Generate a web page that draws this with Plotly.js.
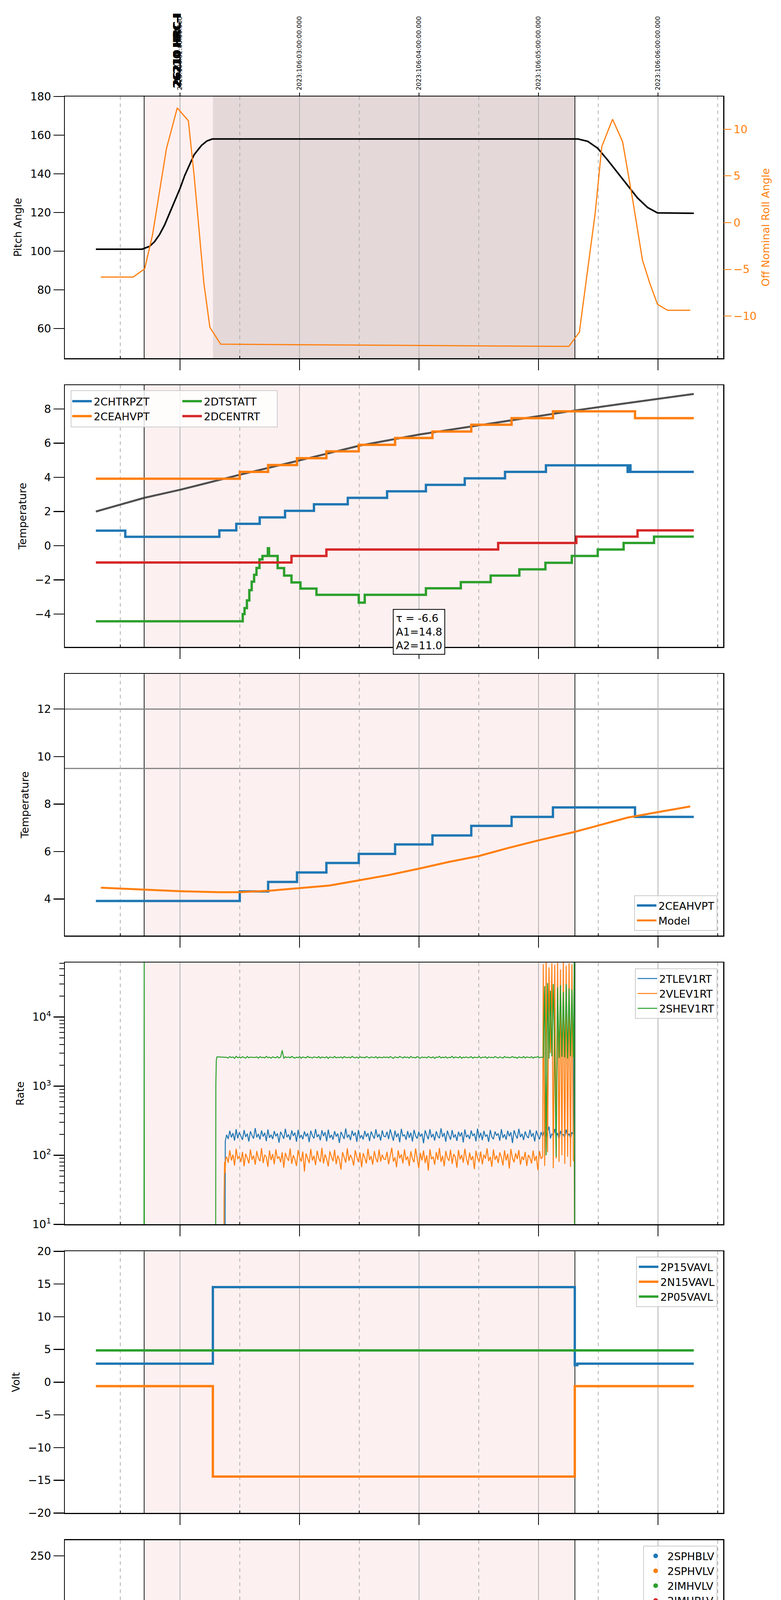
<!DOCTYPE html>
<html>
<head>
<meta charset="utf-8">
<script src="https://cdn.plot.ly/plotly-3.0.1.min.js"></script>
<style>
body { margin: 0; background: #fff; }
#plot { width: 2000px; height: 6200px; }
</style>
</head>
<body>
<div id="plot"></div>
<script>
// time axis is in hours of 2023-04-15/16 local time (24 = 00h on 04-16)
var hourTicks = [22, 23, 24, 25, 26]
var hourLabels = ['22h', '23h', '00h', '01h', '02h']
var halfTicks = [21.5, 22.5, 23.5, 24.5, 25.5, 26.5]
var halfLabels = ['30', '30', '30', '30', '30', '30']
var topLabels = ['2023:106:02:00:00.000', '2023:106:03:00:00.000', '2023:106:04:00:00.000',
                 '2023:106:05:00:00.000', '2023:106:06:00:00.000']
var obsidLabel = '26210 HRC-I'
var obsStart = 21.7, obsStop = 25.305, dwellStart = 22.276

// panel 1 : pitch and roll
var pitch = [[21.296,101.0],[21.683,101.0],[21.746,102.5],[21.787,104.9],[21.829,108.6],[21.871,113.5],
  [21.9125,119.6],[21.954,125.7],[22.0,132.4],[22.04,139.2],[22.118,149.9],[22.18,154.7],[22.226,157.0],
  [22.27,158.0],[25.33,158.0],[25.4125,156.8],[25.496,153.2],[25.579,147.1],[25.704,137.3],[25.829,127.5],
  [25.9125,122.6],[25.996,119.8],[26.3,119.6]]
var roll = [[21.3375,-5.82],[21.608,-5.82],[21.704,-4.94],[21.77,-1.3],[21.85,5.04],[21.886,7.9],[21.977,12.28],
  [22.07,10.9],[22.118,5.04],[22.16,-1.0],[22.20,-6.5],[22.25,-11.2],[22.34,-13.0],[23.0,-13.06],[24.0,-13.14],
  [25.0,-13.19],[25.254,-13.24],[25.342,-11.72],[25.41,-5.27],[25.475,1.06],[25.53,8.15],[25.62,11.06],
  [25.704,8.66],[25.79,2.33],[25.87,-4.0],[25.933,-6.53],[25.996,-8.73],[26.08,-9.37],[26.27,-9.37]]

// panel 2 : temperatures
var chtrpzt = [[21.296,0.88],[21.542,0.52],[22.329,0.9],[22.471,1.28],[22.667,1.66],[22.879,2.04],[23.121,2.42],
  [23.404,2.8],[23.733,3.18],[24.058,3.56],[24.383,3.94],[24.72,4.32],[25.0625,4.7],[25.746,4.32],[25.755,4.7],
  [25.77,4.32],[26.3,4.32]]
var ceahvpt = [[21.296,3.92],[22.5,4.32],[22.7375,4.72],[22.979,5.12],[23.225,5.52],[23.496,5.9],[23.8,6.3],
  [24.1125,6.68],[24.4375,7.08],[24.775,7.46],[25.121,7.86],[25.808,7.46],[26.3,7.46]]
var dtstatt = [[21.296,-4.42],[22.525,-4.0],[22.54,-3.65],[22.56,-3.2],[22.58,-2.6],[22.60,-2.1],[22.62,-1.7],
  [22.64,-1.3],[22.665,-0.8],[22.69,-0.6],[22.735,-0.15],[22.745,-0.6],[22.817,-1.31],[22.871,-1.75],
  [22.933,-2.15],[23.008,-2.51],[23.142,-2.87],[23.496,-3.33],[23.546,-2.87],[24.058,-2.49],[24.35,-2.13],
  [24.6,-1.75],[24.84,-1.38],[25.058,-1.0],[25.279,-0.6],[25.496,-0.22],[25.7125,0.16],[25.967,0.53],[26.3,0.53]]
var dcentrt = [[21.296,-0.98],[22.933,-0.6],[23.225,-0.22],[24.6625,0.16],[25.317,0.53],[25.829,0.9],[26.3,0.9]]
var fitCurve = [[21.296,2.0],[21.7,2.8],[22.0,3.27],[22.5,4.15],[23.0,4.99],[23.5,5.85],[24.0,6.5],[24.5,7.04],
  [25.0,7.59],[25.304,7.91],[25.7,8.3],[26.0,8.58],[26.3,8.88]]
var fitText = 'τ = -6.6<br>A1=14.8<br>A2=11.0'

// panel 3 : 2CEAHVPT against model
var modelT = [[21.3375,4.48],[21.7,4.39],[22.0,4.33],[22.33,4.29],[22.5,4.29],[22.75,4.35],[23.0,4.45],
  [23.25,4.57],[23.5,4.79],[23.746,5.01],[24.0,5.28],[24.246,5.56],[24.5,5.81],[24.746,6.15],[25.0,6.47],
  [25.304,6.83],[25.496,7.09],[25.746,7.43],[26.0,7.66],[26.27,7.9]]
var limitLines = [12, 9.5]

// panel 4 : rates, sampled evenly between rateSpan
var rateSpan = [22.39, 25.035]
var tlevNoiseA = [198,172,226,181,209,163,238,176,214,189,167,231,184,205,158,222,193,174,247,181,
  203,169,228,186,211,160,236,179,198,171,224,188,207,152,219,195,173,241,182,200,
  166,229,190,212,157,233,177,196,170,221,187,208,155,226,192,175,239,183,201,164,
  230,189,215,159,235,178,197,168,223,186,206,151,218,194,172,244,180,199,165,227,
  191,213,156,232,176,195,169,225,185,209,160,221,193,174,237,182,202,163,229,188]
var tlevNoiseB = [185,219,171,236,194,162,227,183,208,154,241,188,199,167,224,179,212,158,233,191,
  174,218,186,205,149,229,195,170,238,181,203,163,222,189,176,245,184,210,157,226,
  193,168,231,180,200,161,219,187,214,153,236,182,197,172,228,190,206,159,243,177,
  211,165,225,186,199,156,232,184,171,220,192,207,162,238,179,201,168,226,188,215,
  150,230,196,174,241,183,204,166,221,190,177,234,185,209,158,227,193,170,216,187]
var vlevNoiseA = [95,78,118,84,102,71,124,88,97,80,112,69,105,91,76,121,86,99,73,115,
  90,82,127,77,101,94,68,117,85,104,74,122,89,96,79,110,66,108,92,83,
  125,75,100,87,70,119,93,81,113,58,106,90,77,123,84,98,72,116,91,80,
  128,76,103,88,69,114,95,82,120,74,99,86,62,111,93,78,126,83,101,89,
  71,118,94,80,109,67,107,92,76,124,85,97,73,115,90,79,121,81,102,88]
var vlevNoiseB = [87,112,74,99,128,81,93,67,118,90,103,76,121,85,96,70,114,89,79,125,
  92,65,108,84,117,77,100,60,122,88,95,73,111,86,127,80,98,69,115,91,
  83,120,75,104,94,66,119,87,101,78,124,90,72,109,85,97,63,116,92,80,
  113,74,102,89,126,82,95,68,121,86,99,77,110,93,71,118,84,105,64,123,
  91,79,107,88,119,73,96,85,112,70,101,92,76,117,83,98,61,115,89,94]
var shevNoiseA = [2610,2550,2680,2590,2640,2520,2700,2580,2620,2560,2660,2600,2540,2690,2570,2630,2610,2600,2600,2650,
  2530,2670,2590,2610,2560,2700,2580,2620,2540,2650,2600,2570,2680,2550,2630,3300,2520,2660,2590,2640,
  2570,2690,2600,2550,2620,2580,2670,2530,2640,2610,2560,2700,2590,2620,2550,2650,2600,2570,2680,2540,
  2630,2610,2580,2660,2520,2640,2600,2570,2690,2560,2620,2590,2650,2540,2670,2610,2580,2630,2550,2700,
  2600,2570,2640,2530,2660,2590,2620,2560,2680,2600,2550,2640,2610,2580,2670,2540,2630,2600,2570,2650]
var shevNoiseB = [2590,2640,2560,2680,2610,2530,2650,2600,2570,2690,2620,2550,2660,2590,2630,2540,2700,2580,2610,2560,
  2670,2600,2530,2640,2590,2620,2550,2680,2610,2570,2650,2520,2630,2600,2690,2560,2620,2580,2660,2540,
  2610,2590,2700,2550,2640,2600,2570,2680,2530,2620,2590,2650,2560,2610,2670,2540,2630,2600,2580,2690,
  2550,2620,2600,2660,2530,2640,2590,2610,2570,2680,2620,2550,2650,2600,2540,2690,2580,2630,2560,2610,
  2670,2590,2620,2530,2650,2600,2570,2680,2550,2640,2610,2580,2660,2540,2630,2600,2690,2570,2620,2600]
var rateBurstStart = 25.04, rateBurstStep = 0.012
var tlevBurst = [200,230,180,215,260,175,205,190,240,185,210,170,225,195,200,180,235,190,205,175,215,200]
var vlevBurst = [58000,70,62000,110,52000,3000,60000,65,57000,90,61000,80,49000,100,63000,75,55000,95,60000,68,58000,85]
var shevBurst = [2600,28000,100,31000,2500,24000,2700,30000,2600,95,27000,2550,29000,2650,23000,2600,30000,2500,26000,2700,25000,2600]
var tlevHead = [[21.296,1],[22.376,1],[22.379,160]]
var vlevHead = [[21.296,1],[22.366,1],[22.369,25],[22.373,80],[22.377,55],[22.382,90]]
var shevHead = [[21.296,1],[21.698,1],[21.7,90000],[21.702,1],[22.298,1],[22.3,1100],[22.304,2400],[22.31,2650]]
var tlevTail = [[25.30,90000],[25.302,1],[26.3,1]]
var vlevTail = [[25.30,80],[25.302,1],[26.3,1]]
var shevTail = [[25.30,90000],[25.302,1],[26.3,1]]

// panel 5 : voltages
var p15 = [[21.296,2.83],[22.275,14.53],[25.304,2.6],[25.325,2.83],[26.3,2.83]]
var n15 = [[21.296,-0.61],[22.275,-14.42],[25.304,-0.61],[26.3,-0.61]]
var p05 = [[21.296,4.86],[26.3,4.86]]

// panel 6 : HV monitors (runs are sampled every hvCadence hours)
var hvCadence = 0.01
var sphblv = [[25.0,-50]]
var sphvlv = [[25.0,-50]]
var imhblvLead = [[22.328,127],[22.331,126],[22.334,119],[22.337,106],[22.340,105],[22.343,101],[22.346,96],
  [22.350,93],[22.355,90],[22.360,88],[22.365,87]]
var imhblvRun = [22.37, 25.30, 86]
var imhblvOut = [[25.04,79],[25.135,79],[25.142,79],[25.15,79],[25.156,79]]
var imhvlvLead = [[22.322,100],[22.326,98],[22.33,95],[22.334,90],[22.338,88],[22.342,85],[22.346,83],
  [22.35,81],[22.355,80]]
var imhvlvRun = [22.36, 25.30, 79]
var imhvlvOut = [[25.04,127],[25.135,127],[25.145,127]]

// panel 7 : detector temperatures
var detBurstStart = 25.0375, detBurstStep = 0.012
var spinatm = [[22.27,-3],[22.275,1.12],[22.317,1.53],[22.525,2.0],[22.546,2.5],[22.567,3.0],[22.579,3.3],
  [22.6,3.9],[22.621,4.6],[22.642,5.0],[22.6625,5.5],[22.683,6.0],[22.704,6.52],[22.746,6.0],[22.79,5.5],
  [22.83,5.0],[22.8625,4.55],[22.9125,4.15],[22.975,3.7],[23.046,3.27],[23.183,2.83],[23.421,2.39],[24.5375,2.83]]
var spinatmBurst = [-3,2.83,-3,2.83,-3,2.83,2.83,2.83,2.83,2.83,2.83,2.83,-3,2.83,-3,2.83,-3,2.83,-3,2.83]
var spinatmTail = [[25.2875,3.3],[25.30,3.3]]
var sphvatm = [[22.275,13.59],[23.092,13.83],[23.379,14.14],[23.654,14.44],[23.9375,14.71],[24.217,14.99],
  [24.496,15.26],[24.8,15.56]]
var sphvatmBurst = [15.8,10.75,15.8,10.75,15.8,10.75,15.8,15.8,10.75,15.8,10.75,-3,15.8,10.75,15.8,10.75,15.8,10.75,15.8,10.75]
var sphvatmTail = [[25.275,15.8]]
var iminatm = [[22.2875,0.25],[23.496,0.66],[24.383,1.09]]
var iminatmBurst = [2.85,1.09,2.85,1.09,2.85,1.09,2.85,1.5,2.85,1.5,2.85,1.5,2.85,1.5,2.85,1.5,2.85,1.5,2.85,1.5]
var iminatmTail = [[25.29,1.5]]
var imhvatm = [[22.27,-5],[22.275,13.05],[22.329,12.73],[22.392,13.05],[22.525,13.33],[22.629,13.62],[22.733,13.89],
  [22.854,14.17],[22.983,14.44],[23.121,14.72],[23.275,14.99],[23.4375,15.26],[23.6125,15.53],[23.808,15.81],
  [24.029,16.1],[24.267,16.38],[24.508,16.65],[24.7875,16.94]]
var imhvatmBurst = [17.28,15.8,17.28,15.8,17.28,15.8,17.28,15.8,17.28,15.8,17.28,10.8,17.28,15.8,17.28,15.8,17.28,15.8,17.28,15.8]
var imhvatmTail = [[25.29,17.28],[25.305,-5],[25.307,25],[25.309,-5]]

// panel 8 : FEA temperatures
var fhtrmzt = [[21.296,-7.18],[21.975,-10],[22.392,-7.18],[22.5375,-6.76],[22.6625,-6.36],[22.767,-5.97],
  [22.871,-5.58],[22.975,-5.19],[23.079,-4.80],[23.183,-4.42],[23.2875,-4.03],[23.4,-3.65],[23.508,-3.27],
  [23.629,-2.88],[23.6625,-3.3],[23.667,-2.88],[23.7375,-2.49],[23.854,-2.12],[23.971,-1.74],[24.092,-1.36],
  [24.217,-0.99],[24.346,-0.6],[24.475,-0.24],[24.608,0.15],[24.7375,0.52],[24.871,0.91],[24.9125,-0.15],
  [24.917,0.91],[25.008,1.30],[25.204,1.64],[25.279,2.03],[25.854,1.66],[26.3,1.66]]
var fradpyt = [[22.70,-10],[22.704,-7.18],[22.8,-6.77],[22.9,-6.36],[22.996,-5.97],[23.1,-5.58],[23.204,-5.19],
  [23.3125,-4.80],[23.425,-4.42],[23.5375,-4.03],[23.654,-3.65],[23.775,-3.27],[23.9,-2.88],[24.025,-2.49],
  [24.15,-2.12],[24.279,-1.74],[24.4125,-1.36],[24.55,-0.99],[24.692,-0.6],[24.8375,-0.24],[24.979,0.15],
  [25.175,10],[25.177,-10],[25.204,0.5],[25.279,0.91],[25.454,0.52],[25.571,0.14],[25.704,-0.24],
  [25.858,-0.6],[26.008,-0.24],[26.3,-0.24]]
var fepratm = [[22.296,-6.21],[22.317,-5.80],[22.358,-5.41],[22.4125,-5.02],[22.454,-4.63],[22.496,-4.23],
  [22.533,-3.85],[22.608,-3.4],[22.704,-3.0],[22.808,-2.65],[22.9125,-2.25],[23.017,-1.85],[23.129,-1.45],
  [23.246,-1.08],[23.3625,-0.68],[23.4875,-0.3],[23.604,0.1],[23.729,0.5],[23.854,0.9],[23.9875,1.3],
  [24.129,1.5],[24.279,1.95],[24.433,2.35],[24.571,2.8],[24.725,3.2],[24.879,3.7],
  [25.029,-4.67],[25.035,4.6],[25.041,-4.67],[25.047,4.6],[25.053,-4.67],[25.058,5],[25.100,-4.67],
  [25.106,4.6],[25.112,-4.67],[25.118,4.6],[25.124,-4.67],[25.130,4.6],[25.136,-4.67],[25.142,4.6],
  [25.148,-4.67],[25.154,5],[25.196,-4.67],[25.202,4.6],[25.208,-4.67],[25.214,4.6],[25.217,5],
  [25.2375,-4.67],[25.243,4.6],[25.249,-4.67],[25.255,4.6],[25.258,5],[25.27,5]]
var fe00atm = [[22.27,-10],[22.275,-5.23],[22.4125,-4.89],[22.433,-5.6],[22.437,-4.89],[22.508,-4.53],
  [22.579,-4.16],[22.654,-3.82],[22.733,-3.45],[22.821,-3.14],[22.904,-2.1],[22.906,-2.78],[22.979,-2.43],
  [23.046,-2.1],[23.129,-1.79],[23.225,-1.42],[23.3,-1.11],[23.383,-0.78],[23.4875,-0.46],[23.52,-0.05],
  [23.523,-0.46],[23.55,-0.85],[23.553,-0.46],[23.579,-0.14],[23.6625,0.19],[23.7375,0.52],[23.85,0.83],
  [23.946,1.13],[24.05,1.44],[24.14,2.4],[24.143,1.44],[24.15,1.75],[24.2375,2.05],[24.29,2.7],[24.293,2.05],
  [24.3375,2.35],[24.4375,2.66],[24.546,2.95],[24.654,3.27],[24.758,3.57],[24.8,2.9],[24.803,3.57],
  [24.8625,3.85],[24.967,4.15],[25.079,4.15],[25.0795,10],[25.08,-10],[25.175,-10],[25.1755,10],
  [25.176,-10],[25.306,-10],[25.3065,10],[25.307,-10]]

var BLUE = '#1f77b4', ORANGE = '#ff7f0e', GREEN = '#2ca02c', RED = '#d62728'
var FONT = 'DejaVu Sans'

// figure geometry in pixels
var L = 166, R = 1852, T = 247, B = 6091
var PW = R - L, PH = B - T
var STEP = 739.1, PANEL = 670
var xRange = [21.036, 26.546]

function px2x(px) { return (px - L) / PW }
function px2y(py) { return (B - py) / PH }
function dom(k) {
    var top = T + STEP * k
    return [px2y(top + PANEL), px2y(top)]
}
function sfx(k) { return k === 0 ? '' : String(k + 1) }

function onGrid(t0, dt, vals) {
    return vals.map(function (v, i) { return [t0 + i * dt, v] })
}
function spread(span, vals) {
    return onGrid(span[0], (span[1] - span[0]) / (vals.length - 1), vals)
}
function run(r) {
    var out = []
    for (var t = r[0]; t <= r[1] + 1e-9; t += hvCadence) out.push([t, r[2]])
    return out
}

var traces = []
function addLine(pairs, name, color, width, k, opt) {
    opt = opt || {}
    var tr = {
        type: 'scatter', mode: 'lines',
        x: pairs.map(function (p) { return p[0] }),
        y: pairs.map(function (p) { return p[1] }),
        name: name,
        xaxis: 'x' + sfx(k), yaxis: opt.yaxis || 'y' + sfx(k),
        line: { color: color, width: width, shape: opt.shape || 'linear' },
        showlegend: !!opt.legend,
        hoverinfo: 'skip'
    }
    if (opt.legend) tr.legend = opt.legend
    traces.push(tr)
}
function addDots(pairs, name, color, k, legend) {
    traces.push({
        type: 'scatter', mode: 'markers',
        x: pairs.map(function (p) { return p[0] }),
        y: pairs.map(function (p) { return p[1] }),
        name: name, xaxis: 'x' + sfx(k), yaxis: 'y' + sfx(k),
        marker: { color: color, size: 12 },
        showlegend: true, legend: legend, hoverinfo: 'skip'
    })
}

// panel 1
addLine(pitch, 'Pitch', '#000', 4, 0)
addLine(roll, 'Roll', ORANGE, 3, 0, { yaxis: 'y9' })

// panel 2
addLine(fitCurve, 'fit', 'rgba(60,60,60,0.9)', 5, 1)
addLine(chtrpzt, '2CHTRPZT', BLUE, 6, 1, { shape: 'hv', legend: 'legend' })
addLine(ceahvpt, '2CEAHVPT', ORANGE, 6, 1, { shape: 'hv', legend: 'legend' })
addLine(dtstatt, '2DTSTATT', GREEN, 6, 1, { shape: 'hv', legend: 'legend2' })
addLine(dcentrt, '2DCENTRT', RED, 6, 1, { shape: 'hv', legend: 'legend2' })

// panel 3
addLine(ceahvpt, '2CEAHVPT', BLUE, 6, 2, { shape: 'hv', legend: 'legend3' })
addLine(modelT, 'Model', ORANGE, 5, 2, { legend: 'legend3' })

// panel 4
var rb = function (vals) { return onGrid(rateBurstStart, rateBurstStep, vals) }
addLine(tlevHead.concat(spread(rateSpan, tlevNoiseA.concat(tlevNoiseB)), rb(tlevBurst), tlevTail), '2TLEV1RT', BLUE, 2.5, 3, { legend: 'legend4' })
addLine(vlevHead.concat(spread(rateSpan, vlevNoiseA.concat(vlevNoiseB)), rb(vlevBurst), vlevTail), '2VLEV1RT', ORANGE, 2.5, 3, { legend: 'legend4' })
addLine(shevHead.concat(spread(rateSpan, shevNoiseA.concat(shevNoiseB)), rb(shevBurst), shevTail), '2SHEV1RT', GREEN, 2.5, 3, { legend: 'legend4' })

// panel 5
addLine(p15, '2P15VAVL', BLUE, 6, 4, { shape: 'hv', legend: 'legend5' })
addLine(n15, '2N15VAVL', ORANGE, 6, 4, { shape: 'hv', legend: 'legend5' })
addLine(p05, '2P05VAVL', GREEN, 6, 4, { shape: 'hv', legend: 'legend5' })

// panel 6
addDots(sphblv, '2SPHBLV', BLUE, 5, 'legend6')
addDots(sphvlv, '2SPHVLV', ORANGE, 5, 'legend6')
addDots(imhvlvLead.concat(run(imhvlvRun), imhvlvOut), '2IMHVLV', GREEN, 5, 'legend6')
addDots(imhblvLead.concat(run(imhblvRun), imhblvOut), '2IMHBLV', RED, 5, 'legend6')

// panel 7
var db = function (vals) { return onGrid(detBurstStart, detBurstStep, vals) }
addLine(spinatm.concat(db(spinatmBurst), spinatmTail), '2SPINATM', BLUE, 6, 6, { shape: 'hv', legend: 'legend7' })
addLine(sphvatm.concat(db(sphvatmBurst), sphvatmTail), '2SPHVATM', ORANGE, 6, 6, { shape: 'hv', legend: 'legend7' })
addLine(iminatm.concat(db(iminatmBurst), iminatmTail), '2IMINATM', GREEN, 6, 6, { shape: 'hv', legend: 'legend7' })
addLine(imhvatm.concat(db(imhvatmBurst), imhvatmTail), '2IMHVATM', RED, 6, 6, { shape: 'hv', legend: 'legend7' })

// panel 8
addLine(fhtrmzt, '2FHTRMZT', BLUE, 6, 7, { shape: 'hv', legend: 'legend8' })
addLine(fradpyt, '2FRADPYT', ORANGE, 6, 7, { shape: 'hv', legend: 'legend8' })
addLine(fepratm, '2FEPRATM', GREEN, 6, 7, { shape: 'hv', legend: 'legend8' })
addLine(fe00atm, '2FE00ATM', RED, 6, 7, { shape: 'hv', legend: 'legend8' })

var yspecs = [
    { title: 'Pitch Angle', range: [44.6, 180], tickvals: [60, 80, 100, 120, 140, 160, 180] },
    { title: 'Temperature', range: [-5.92, 9.39], tickvals: [-4, -2, 0, 2, 4, 6, 8] },
    { title: 'Temperature', range: [2.46, 13.48], tickvals: [4, 6, 8, 10, 12] },
    { title: 'Rate', type: 'log', range: [1, 4.787], tickvals: [10, 100, 1000, 10000],
      ticktext: ['10<sup>1</sup>', '10<sup>2</sup>', '10<sup>3</sup>', '10<sup>4</sup>'] },
    { title: 'Volt', range: [-20, 20], tickvals: [-20, -15, -10, -5, 0, 5, 10, 15, 20] },
    { title: 'HV Monitor', range: [0, 266], tickvals: [0, 50, 100, 150, 200, 250] },
    { title: 'Detector Temp', range: [-1.25, 18.17], tickvals: [0, 2.5, 5, 7.5, 10, 12.5, 15, 17.5], tickformat: '.1f' },
    { title: 'FEA Temp', range: [-7.47, 4.29], tickvals: [-6, -4, -2, 0, 2, 4] }
]

var logMinor = []
;[1, 10, 100, 1000, 10000].forEach(function (d) {
    for (var m = 2; m <= 9; m++) logMinor.push(m * d)
})

var layout = {
    width: 2000, height: 6200,
    margin: { l: L, r: 2000 - R, t: T, b: 6200 - B },
    paper_bgcolor: '#fff', plot_bgcolor: 'rgba(0,0,0,0)',
    font: { family: FONT, size: 27, color: '#000' },
    showlegend: true,
    shapes: [], annotations: []
}

for (var k = 0; k < 8; k++) {
    var s = sfx(k)
    layout['xaxis' + s] = {
        domain: [0, 1], anchor: 'y' + s, range: xRange,
        tickmode: 'array', tickvals: hourTicks, ticktext: hourLabels,
        showticklabels: k === 7, tickfont: { size: 30 },
        ticks: 'outside', ticklen: 28, tickwidth: 2.5, tickcolor: '#000',
        showline: true, linecolor: '#000', linewidth: 2.5, mirror: true,
        showgrid: true, gridcolor: '#b0b0b0', gridwidth: 1.5, zeroline: false,
        minor: { tickmode: 'array', tickvals: halfTicks, ticks: 'inside', ticklen: 6, tickwidth: 2,
                 tickcolor: '#000', showgrid: true, gridcolor: '#b0b0b0', gridwidth: 1.5, griddash: 'dash' }
    }
    var sp = yspecs[k]
    var ya = {
        domain: dom(k), anchor: 'x' + s, range: sp.range,
        tickmode: 'array', tickvals: sp.tickvals, tickfont: { size: 28 },
        ticks: 'outside', ticklen: 27, tickwidth: 2.5, tickcolor: '#000',
        showline: true, linecolor: '#000', linewidth: 2.5, mirror: true,
        showgrid: false, zeroline: false,
        title: { text: sp.title, font: { size: 27 }, standoff: 14 }
    }
    if (sp.type) ya.type = sp.type
    if (sp.ticktext) ya.ticktext = sp.ticktext
    if (sp.tickformat) ya.tickformat = sp.tickformat
    if (sp.type === 'log') {
        ya.minor = { tickmode: 'array', tickvals: logMinor, ticks: 'outside', ticklen: 12, tickwidth: 2, tickcolor: '#000', showgrid: false }
    }
    layout['yaxis' + s] = ya

    // observation window
    layout.shapes.push({ type: 'rect', xref: 'x' + s, yref: 'y' + s + ' domain', x0: obsStart, x1: obsStop,
        y0: 0, y1: 1, fillcolor: '#fdf0f0', line: { width: 0 }, layer: 'below' })
    if (k === 0) {
        layout.shapes.push({ type: 'rect', xref: 'x', yref: 'y domain', x0: dwellStart, x1: obsStop,
            y0: 0, y1: 1, fillcolor: '#e4d8d8', line: { width: 0 }, layer: 'below' })
    }
    ;[obsStart, obsStop].forEach(function (t) {
        layout.shapes.push({ type: 'line', xref: 'x' + s, yref: 'y' + s + ' domain', x0: t, x1: t,
            y0: 0, y1: 1, line: { color: '#000', width: 1.8 }, layer: 'below' })
    })
}

// panel 1 right axis
layout.yaxis9 = {
    overlaying: 'y', anchor: 'x', side: 'right', range: [-14.5, 13.5],
    tickmode: 'array', tickvals: [-10, -5, 0, 5, 10], tickfont: { size: 28, color: ORANGE },
    ticks: 'outside', ticklen: 20, tickwidth: 2, tickcolor: ORANGE,
    showline: false, showgrid: false, zeroline: false,
    title: { text: 'Off Nominal Roll Angle', font: { size: 27, color: ORANGE }, standoff: 14 }
}
layout.xaxis8.title = { text: '2023-04-16 (106)', font: { size: 34 }, standoff: 4 }

// top time labels of panel 1 with their ticks
hourTicks.forEach(function (h, i) {
    layout.shapes.push({ type: 'line', xref: 'x', yref: 'paper', x0: h, x1: h, y0: px2y(247), y1: px2y(237),
        line: { color: '#000', width: 2 } })
    layout.annotations.push({ xref: 'x', yref: 'paper', x: h, y: px2y(233), xanchor: 'center', yanchor: 'bottom',
        text: topLabels[i], textangle: -90, showarrow: false, font: { size: 16 } })
})
// half hour labels under the last panel
halfTicks.forEach(function (h, i) {
    layout.annotations.push({ xref: 'x8', yref: 'paper', x: h, y: px2y(6093), xanchor: 'center', yanchor: 'top',
        text: halfLabels[i], showarrow: false, font: { size: 18 } })
})

// panel 3 limit lines
limitLines.forEach(function (v) {
    layout.shapes.push({ type: 'line', xref: 'x3 domain', yref: 'y3', x0: 0, x1: 1, y0: v, y1: v,
        line: { color: '#808080', width: 3 }, layer: 'below' })
})

// panel 2 legend frame (two columns)
layout.shapes.push({ type: 'rect', xref: 'paper', yref: 'paper', x0: px2x(182), x1: px2x(710),
    y0: px2y(1093), y1: px2y(1000), fillcolor: 'rgba(255,255,255,0.8)',
    line: { color: '#cccccc', width: 2 }, layer: 'above' })

var legBase = { font: { size: 27 }, bgcolor: 'rgba(255,255,255,0.8)', bordercolor: '#cccccc', borderwidth: 2,
    itemwidth: 50, tracegroupgap: 0, xref: 'paper', yref: 'paper' }
function leg(o) { return Object.assign({}, legBase, o) }
layout.legend = leg({ x: px2x(180), y: px2y(1003), xanchor: 'left', yanchor: 'top', bgcolor: 'rgba(0,0,0,0)', borderwidth: 0 })
layout.legend2 = leg({ x: px2x(462), y: px2y(1003), xanchor: 'left', yanchor: 'top', bgcolor: 'rgba(0,0,0,0)', borderwidth: 0 })
layout.legend3 = leg({ x: px2x(1837), y: px2y(2383), xanchor: 'right', yanchor: 'bottom' })
layout.legend4 = leg({ x: px2x(1837), y: px2y(2479), xanchor: 'right', yanchor: 'top' })
layout.legend5 = leg({ x: px2x(1837), y: px2y(3217), xanchor: 'right', yanchor: 'top' })
layout.legend6 = leg({ x: px2x(1837), y: px2y(3957), xanchor: 'right', yanchor: 'top' })
layout.legend7 = leg({ x: px2x(1837), y: px2y(4695), xanchor: 'right', yanchor: 'top' })
layout.legend8 = leg({ x: px2x(1837), y: px2y(6077), xanchor: 'right', yanchor: 'bottom' })

// fit parameters box in panel 2
layout.annotations.push({ xref: 'x2', yref: 'y2', x: 24.0, y: -3.69, xanchor: 'center', yanchor: 'top',
    text: fitText, align: 'left', showarrow: false, font: { size: 27 },
    bgcolor: '#fff', bordercolor: '#000', borderwidth: 2, borderpad: 6 })

// obsid label above the top axis
;[0, 5].forEach(function (shift) {
    layout.annotations.push({ xref: 'x', yref: 'paper', x: 21.977, y: px2y(228), xanchor: 'center', yanchor: 'bottom',
        yshift: shift, text: '<b>' + obsidLabel + '</b>', textangle: -90, showarrow: false, font: { size: 27 } })
})

Plotly.newPlot('plot', traces, layout, { staticPlot: true })
</script>
</body>
</html>
